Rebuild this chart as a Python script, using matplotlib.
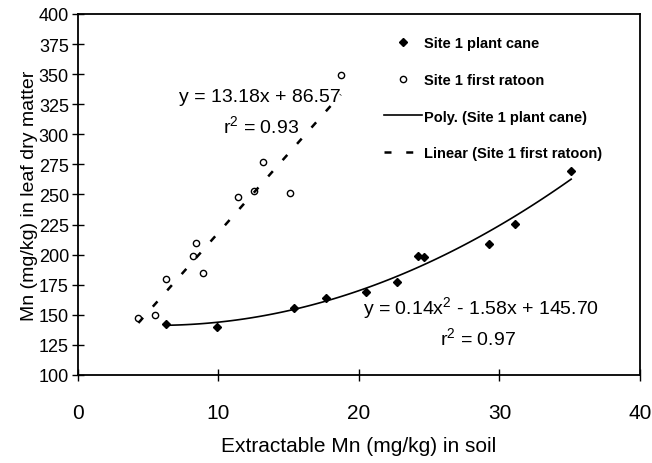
import matplotlib
matplotlib.use('Agg')
import numpy as np
import matplotlib.pyplot as plt

plt.rcParams['font.family'] = ['Liberation Sans', 'DejaVu Sans']
plt.rcParams['mathtext.fontset'] = 'custom'
plt.rcParams['mathtext.rm'] = 'Liberation Sans'
plt.rcParams['mathtext.it'] = 'Liberation Sans'

# data
cane_x = [6.3, 9.9, 15.4, 17.65, 20.5, 22.7, 24.2, 24.6, 29.25, 31.1, 35.1]
cane_y = [142.4, 139.6, 155.4, 164.0, 169.2, 177.0, 198.5, 198.0, 208.8, 225.7, 269.4]

ratoon_x = [4.3, 5.5, 6.3, 8.2, 8.4, 8.9, 11.4, 12.5, 13.2, 15.1, 18.7]
ratoon_y = [147.0, 149.8, 179.7, 198.6, 209.4, 184.7, 247.6, 253.0, 277.2, 250.9, 349.4]

# trendline coefficients as printed on the chart
poly_coef = [0.14, -1.58, 145.70]
lin_coef = [13.18, 86.57]

fig = plt.figure(figsize=(6.52, 4.64), dpi=100)
ax = fig.add_axes([0.1196, 0.1897, 0.8620, 0.7780])

ax.plot(cane_x, cane_y, linestyle='none', marker='D', markersize=4.5,
        color='black', label='Site 1 plant cane')
ax.plot(ratoon_x, ratoon_y, linestyle='none', marker='o', markersize=4.5,
        markerfacecolor='white', markeredgecolor='black', markeredgewidth=1,
        label='Site 1 first ratoon')

xp = np.linspace(min(cane_x), max(cane_x), 100)
ax.plot(xp, np.polyval(poly_coef, xp), color='black', lw=1.2,
        label='Poly. (Site 1 plant cane)')
xl = np.linspace(min(ratoon_x), max(ratoon_x), 2)
ax.plot(xl, np.polyval(lin_coef, xl), color='black', lw=1.8,
        linestyle=(0, (2.8, 5.9)), label='Linear (Site 1 first ratoon)')

ax.set_xlim(0, 40)
ax.set_ylim(100, 400)
ax.set_xticks([0, 10, 20, 30, 40])
ax.set_yticks(np.arange(100, 401, 25))
ax.tick_params(axis='both', direction='inout', length=9, width=1)
ax.tick_params(axis='x', pad=16, labelsize=15)
ax.tick_params(axis='y', pad=2, labelsize=13)
for s in ax.spines.values():
    s.set_linewidth(1.3)

ax.set_xlabel('Extractable Mn (mg/kg) in soil', fontsize=15)
ax.set_ylabel('Mn (mg/kg) in leaf dry matter', fontsize=14)
ax.xaxis.set_label_coords(0.5, -0.17)
ax.yaxis.set_label_coords(-0.072, 0.5)

ax.text(12.95, 331.7, 'y = 13.18x + 86.57', fontsize=14, ha='center', va='center')
ax.text(13.0, 307.6, 'r$^2$ = 0.93', fontsize=14, ha='center', va='center')
ax.text(28.7, 156.5, 'y = 0.14x$^2$ - 1.58x + 145.70', fontsize=14, ha='center', va='center')
ax.text(28.5, 131.5, 'r$^2$ = 0.97', fontsize=14, ha='center', va='center')

ax.legend(loc='upper left', bbox_to_anchor=(0.545, 0.938), frameon=False,
          prop={'size': 10.5, 'weight': 'bold'}, labelspacing=1.55,
          handlelength=2.6, handletextpad=0.1, borderpad=0, borderaxespad=0)

fig.savefig('out.png', dpi=100)
